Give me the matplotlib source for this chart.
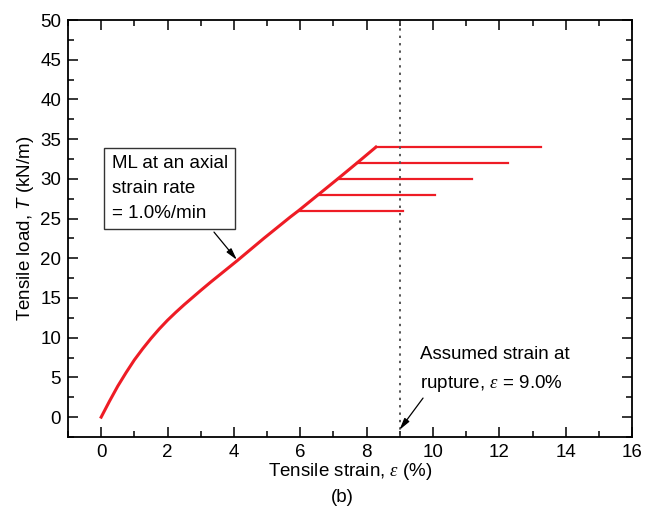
import matplotlib
matplotlib.use("Agg")
import matplotlib.pyplot as plt
from matplotlib.ticker import MultipleLocator

plt.rcParams['font.family'] = ['Liberation Sans', 'DejaVu Sans']
plt.rcParams['mathtext.fontset'] = 'custom'
plt.rcParams['mathtext.it'] = 'Liberation Serif:italic'
plt.rcParams['mathtext.rm'] = 'Liberation Sans'
plt.rcParams['mathtext.sf'] = 'Liberation Sans:italic'

# loading curve (ML at 1.0%/min)
strain = [0.0, 0.25, 0.5, 0.75, 1.0, 1.25, 1.5, 1.75, 2.0, 2.25, 2.5, 2.75, 3.0, 3.3,
          4.1, 4.9, 5.7, 5.95, 6.54, 7.13, 7.71, 8.28]
load = [0.0, 2.0, 3.9, 5.6, 7.2, 8.6, 9.9, 11.1, 12.2, 13.2, 14.15, 15.05, 15.95, 17.0,
        19.7, 22.5, 25.2, 26.0, 28.0, 30.0, 32.0, 34.0]

# creep (constant load) segments
creep_load = [26, 28, 30, 32, 34]
creep_start = [5.95, 6.54, 7.13, 7.71, 8.28]
creep_end = [9.09, 10.07, 11.17, 12.25, 13.24]

rupture_strain = 9.0

fig, ax = plt.subplots(figsize=(6.45, 5.08), dpi=100)
fig.subplots_adjust(left=0.1054, right=0.98, top=0.9606, bottom=0.1398)

ax.plot(strain, load, color='#ee1c25', lw=2.2, solid_joinstyle='round')
for ld, s0, s1 in zip(creep_load, creep_start, creep_end):
    ax.plot([s0, s1], [ld, ld], color='#ee1c25', lw=1.6)

ax.axvline(rupture_strain, color='#555555', ls=(0, (1.2, 2.6)), lw=1.4)

ax.set_xlim(-1, 16)
ax.set_ylim(-2.5, 50)
ax.xaxis.set_major_locator(MultipleLocator(2))
ax.xaxis.set_minor_locator(MultipleLocator(1))
ax.yaxis.set_major_locator(MultipleLocator(5))
ax.yaxis.set_minor_locator(MultipleLocator(2.5))
ax.tick_params(which='both', direction='in', top=True, right=True, labelsize=13.5, pad=5)
ax.tick_params(which='major', length=7.5, width=1.1)
ax.tick_params(which='minor', length=4, width=1.1)
for sp in ax.spines.values():
    sp.set_linewidth(1.3)

ax.set_xlabel(r'Tensile strain, $\mathit{\varepsilon}$ (%)', fontsize=13.5, labelpad=0)
ax.set_ylabel(r'Tensile load, $\mathsf{T}$ (kN/m)', fontsize=13.5, labelpad=3)
fig.text(0.53, 0.021, '(b)', ha='center', va='center', fontsize=13.5)

arrow = dict(arrowstyle='-|>,head_length=0.7,head_width=0.18', color='black', lw=0.9,
             shrinkA=0, shrinkB=0)

ax.text(0.32, 28.8, 'ML at an axial\nstrain rate\n= 1.0%/min', fontsize=13.5,
        ha='left', va='center', linespacing=1.6,
        bbox=dict(boxstyle='square,pad=0.4', fc='white', ec='#333333', lw=1))
ax.annotate('', xy=(4.09, 19.8), xytext=(3.4, 23.3), arrowprops=arrow)

ax.text(9.61, 5.9, 'Assumed strain at\n' r'rupture, $\mathit{\varepsilon}$ = 9.0%', fontsize=13.5,
        ha='left', va='center', linespacing=1.65)
ax.annotate('', xy=(8.99, -1.6), xytext=(9.7, 2.4), arrowprops=arrow)

fig.savefig('out.png', dpi=100)
